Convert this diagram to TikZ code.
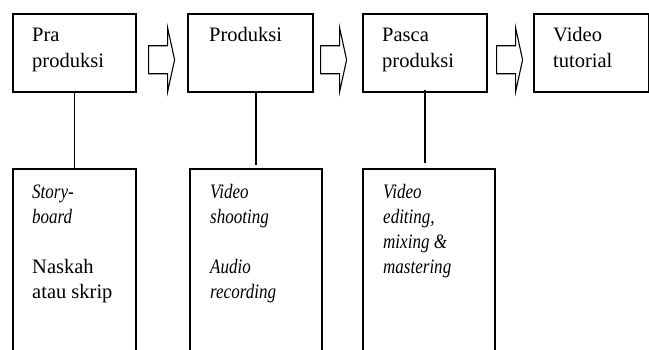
\documentclass[tikz,border=0pt]{standalone}
\usepackage{fontspec}
\setmainfont{Liberation Serif}[ItalicFeatures={FakeStretch=0.83}]
\usetikzlibrary{calc}
\tikzset{
    kotak/.style={draw, line width=1.6pt, rectangle, inner sep=0pt, anchor=north west},
    teks/.style={anchor=base west, inner sep=0pt, align=left,
        font=\fontsize{20.5}{25}\selectfont},
    garis/.style={line width=1.4pt},
    panah/.style={line width=1.1pt, line join=miter}
}
\newcommand{\blokpanah}[1]{%
    \draw[panah] (#1) ++(0,13) -- ++(19,0) -- ++(0,18) -- ++(7,-32)
        -- ++(-7,-32) -- ++(0,18) -- ++(-19,0) -- cycle;
}

\begin{document}
\begin{tikzpicture}[x=1pt, y=1pt]

\useasboundingbox (0,0) rectangle (649,349);

% Kotak tahap (atas)
\node[kotak, minimum width=123pt, minimum height=78pt] (Pra) at (12,336) {};
\node[kotak, minimum width=125pt, minimum height=78pt] (Prod) at (187,336) {};
\node[kotak, minimum width=124pt, minimum height=78pt] (Pasca) at (362,336) {};
\node[kotak, minimum width=115pt, minimum height=78pt] (Tutor) at (533,336) {};

% teks: titik acuan = garis dasar baris terakhir
\node[teks] (PraT) at (32,281) {Pra\\[1pt]produksi};
\node[teks] (ProdT) at (209,307) {Produksi};
\node[teks] (PascaT) at (382,281) {Pasca\\[1pt]produksi};
\node[teks] (TutorT) at (553,281) {Video\\[1pt]tutorial};

% Kotak kegiatan (bawah), terpotong di tepi bawah
\node[kotak, minimum width=123pt, minimum height=210pt] (PraB) at (12,181) {};
\node[kotak, minimum width=132pt, minimum height=210pt] (ProdB) at (189,181) {};
\node[kotak, minimum width=132pt, minimum height=210pt] (PascaB) at (362,181) {};

\node[teks] (PraBT) at (32,51)
    {\textit{Story-}\\\textit{board}\\[25pt]Naskah\\atau skrip};
\node[teks] (ProdBT) at (210,51)
    {\textit{Video}\\\textit{shooting}\\[25pt]\textit{Audio}\\\textit{recording}};
\node[teks] (PascaBT) at (383,76)
    {\textit{Video}\\\textit{editing,}\\\textit{mixing \&}\\\textit{mastering}};

% Garis penghubung
\draw[garis] (Pra.south) -- (PraB.north);
\draw[garis] (ProdB.north |- Prod.south) -- ($(ProdB.north)+(0,3)$);
\draw[garis] ($(Pasca.south)+(0,3)$) -- ($(Pasca.south |- PascaB.north)+(0,5)$);

% Panah blok antar tahap
\coordinate (A1) at ($(Pra.east)+(12,-6)$);
\coordinate (A2) at ($(Prod.east)+(7,-6)$);
\coordinate (A3) at ($(Pasca.east)+(9,-6)$);
\blokpanah{A1}
\blokpanah{A2}
\blokpanah{A3}

\end{tikzpicture}
\end{document}
